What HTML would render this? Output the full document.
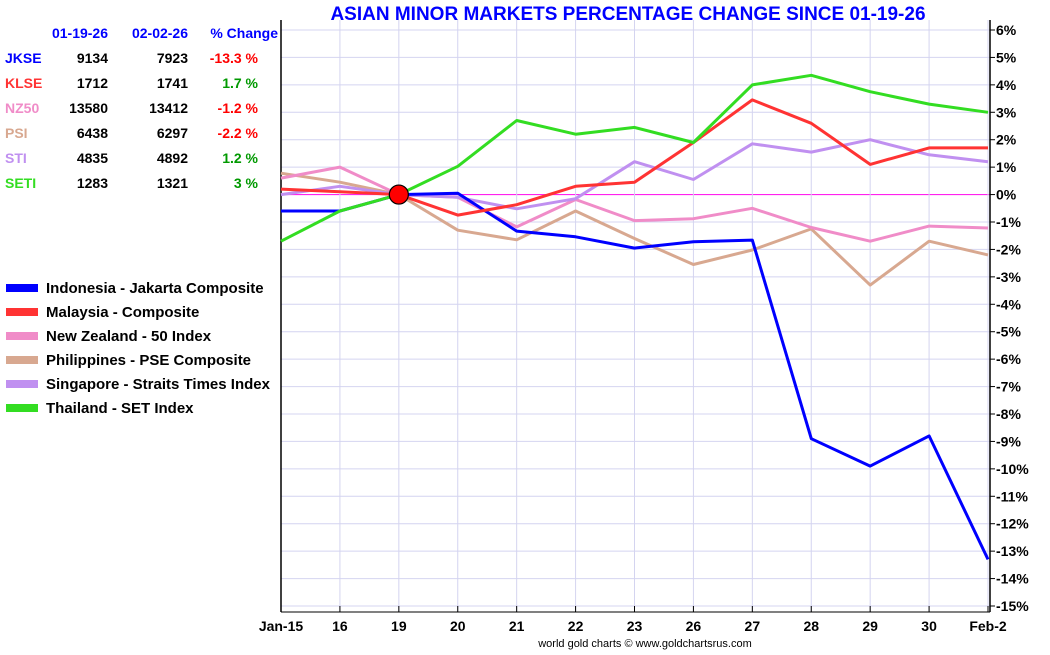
<!DOCTYPE html>
<html><head><meta charset="utf-8"><style>
body{margin:0;background:#fff;font-family:"Liberation Sans",Arial,sans-serif;}
svg text{font-family:"Liberation Sans",Arial,sans-serif;}
</style></head><body>
<svg id="chart" width="1050" height="650" xmlns="http://www.w3.org/2000/svg">
<rect width="1050" height="650" fill="#fff"/>
<text x="628" y="20" text-anchor="middle" font-size="19" font-weight="bold" fill="#0000ff">ASIAN MINOR MARKETS PERCENTAGE CHANGE SINCE 01-19-26</text>
<g id="grid"></g><g id="axes"></g><g id="series"></g>
<g id="table" font-size="14" font-weight="bold"></g>
<g id="legend" font-size="15" font-weight="bold"></g>
<text x="645" y="647" text-anchor="middle" font-size="11" fill="#000">world gold charts © www.goldchartsrus.com</text>
</svg>
<script>
const categories=["Jan-15","16","19","20","21","22","23","26","27","28","29","30","Feb-2"];
const yTicks=[6,5,4,3,2,1,0,-1,-2,-3,-4,-5,-6,-7,-8,-9,-10,-11,-12,-13,-14,-15];
const jkse=[-0.6,-0.6,0,0.05,-1.33,-1.54,-1.95,-1.72,-1.66,-8.9,-9.9,-8.8,-13.3];
const klse=[0.2,0.1,0,-0.75,-0.37,0.3,0.45,1.9,3.45,2.6,1.1,1.7,1.7];
const nz50=[0.6,1.0,0,-0.1,-1.18,-0.18,-0.95,-0.88,-0.5,-1.2,-1.7,-1.15,-1.22];
const psi=[0.78,0.45,0,-1.3,-1.65,-0.6,-1.6,-2.55,-2.02,-1.25,-3.3,-1.7,-2.2];
const sti=[0,0.3,0,-0.1,-0.52,-0.15,1.2,0.55,1.85,1.55,2.0,1.45,1.2];
const seti=[-1.7,-0.6,0,1.03,2.7,2.2,2.45,1.9,4.0,4.35,3.75,3.3,3.0];
const seriesNames=["Indonesia - Jakarta Composite","Malaysia - Composite","New Zealand - 50 Index","Philippines - PSE Composite","Singapore - Straits Times Index","Thailand - SET Index"];
const seriesColors=["#0000ff","#ff3333","#f08cc8","#d8a890","#c090f0","#33dd22"];
const tickers=["JKSE","KLSE","NZ50","PSI","STI","SETI"];
const startVals=[9134,1712,13580,6438,4835,1283];
const endVals=[7923,1741,13412,6297,4892,1321];
const pctLabels=["-13.3 %","1.7 %","-1.2 %","-2.2 %","1.2 %","3 %"];
const tickerColors=["#0000ff","#ff3333","#f08cc8","#d8a890","#c090f0","#33dd22"];
const allSeries=[jkse,klse,nz50,psi,sti,seti];

const NS="http://www.w3.org/2000/svg";
const X0=281,X1=988,YTOP=30,YBOT=606,VMAX=6,VMIN=-15;
const xs=i=>X0+(X1-X0)*i/(categories.length-1);
const ys=v=>YTOP+(VMAX-v)*(YBOT-YTOP)/(VMAX-VMIN);
function mk(tag,attrs,parent,text){const e=document.createElementNS(NS,tag);for(const k in attrs)e.setAttribute(k,attrs[k]);if(text!==undefined)e.textContent=text;parent.appendChild(e);return e;}
const grid=document.getElementById('grid'),axes=document.getElementById('axes'),ser=document.getElementById('series');
yTicks.forEach(t=>{
 const y=ys(t);
 const l=mk('line',{x1:X0,x2:990,y1:y,y2:y,stroke:t===0?'#ff22ee':'#d4d4f0','stroke-width':t===0?1.2:1},grid);
 
 
 const tk=mk('line',{x1:990,x2:995,y1:y,y2:y,stroke:'#000'},axes);
 
 
 const tx=mk('text',{x:996,y:y+5,'font-size':14,'font-weight':'bold',fill:'#000'},axes,t+'%');
 
 
});
categories.forEach((c,i)=>{
 const x=xs(i);
 const l=mk('line',{x1:x,x2:x,y1:20,y2:612,stroke:'#d4d4f0'},grid);
 
 
 const tk=mk('line',{x1:x,x2:x,y1:606,y2:612,stroke:'#000'},axes);
 
 
 const tx=mk('text',{x:x,y:631,'font-size':14,'font-weight':'bold','text-anchor':'middle',fill:'#000'},axes,c);
 
 
});
const la=mk('line',{x1:X0,x2:X0,y1:20,y2:612,stroke:'#000','stroke-width':1.5},axes);


const ra=mk('line',{x1:990,x2:990,y1:20,y2:612,stroke:'#000','stroke-width':1.5},axes);


const ba=mk('line',{x1:X0,x2:990,y1:612,y2:612,stroke:'#000','stroke-width':1},axes);


[3,2,4,0,1,5].forEach(si=>{
 const pts=allSeries[si].map((v,i)=>xs(i).toFixed(1)+','+ys(v).toFixed(1)).join(' ');
 const p=mk('polyline',{points:pts,fill:'none',stroke:seriesColors[si],'stroke-width':3,'stroke-linejoin':'round'},ser);
 
 
});
const dot=mk('circle',{cx:xs(2),cy:ys(0),r:9.5,fill:'#ff0000',stroke:'#000','stroke-width':1.2},ser);


const tb=document.getElementById('table');
[["01-19-26",108],["02-02-26",188],["% Change",278]].forEach(h=>{
 const t=mk('text',{x:h[1],y:38,'text-anchor':'end',fill:'#0000ff'},tb,h[0]);
 
 
});
tickers.forEach((tk,i)=>{
 const y=63+25*i;
 const a=mk('text',{x:5,y:y,fill:tickerColors[i]},tb,tk);
 
 
 const b=mk('text',{x:108,y:y,'text-anchor':'end',fill:'#000'},tb,startVals[i]);
 
 
 const c=mk('text',{x:188,y:y,'text-anchor':'end',fill:'#000'},tb,endVals[i]);
 
 
 const d=mk('text',{x:258,y:y,'text-anchor':'end',fill:pctLabels[i].startsWith('-')?'#ff0000':'#009900'},tb,pctLabels[i]);
 
 
});
const lg=document.getElementById('legend');
seriesNames.forEach((n,i)=>{
 const y=288+24*i;
 const r=mk('rect',{x:6,y:y-4,width:32,height:8,fill:seriesColors[i]},lg);
 
 
 const t=mk('text',{x:46,y:y+5,fill:'#000'},lg,n);
 
 
});
</script>
</body></html>
